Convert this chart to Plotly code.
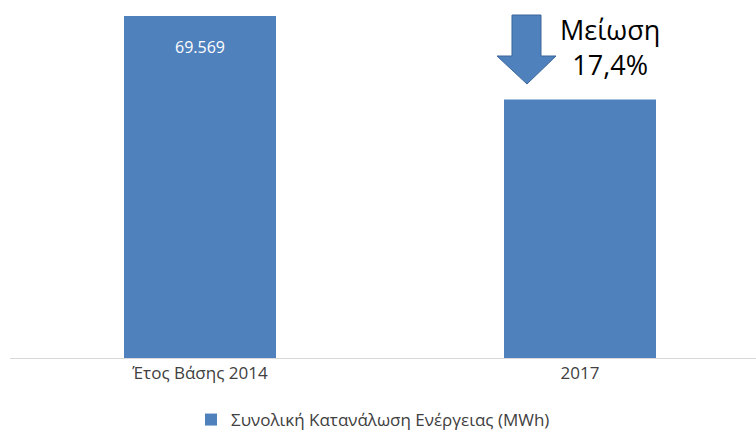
import plotly.graph_objects as go

categories = ["Έτος Βάσης 2014", "2017"]
values = [69569, 57466]
series_name = "Συνολική Κατανάλωση Ενέργειας (MWh)"
note_lines = ["Μείωση", "17,4%"]

W, H = 756, 430
L, R, T, B = 10, 0, 13, 72
PW, PH = W - L - R, H - T - B

def px(x):
    return (x - L) / PW

def py(y):
    return (H - B - y) / PH

BLUE = "#4F81BD"
FONT = "Open Sans, Liberation Sans, sans-serif"

def fmt(v):
    return f"{v:,}".replace(",", ".")

fig = go.Figure()
fig.add_trace(go.Bar(
    x=categories, y=values, name=series_name,
    marker=dict(color=BLUE, line=dict(width=0)),
    width=0.4, showlegend=True,
))

for c, v in zip(categories, values):
    fig.add_annotation(x=c, y=v, xref="x", yref="y", text=fmt(v),
                       showarrow=False, yshift=-31,
                       font=dict(color="white", size=16, family=FONT))

# down arrow
pts = [(512, 15), (541, 15), (541, 56), (556, 56), (527, 84), (497, 56), (512, 56)]
path = "M " + " L ".join(f"{px(x):.5f},{py(y):.5f}" for x, y in pts) + " Z"
fig.add_shape(type="path", path=path, xref="paper", yref="paper",
              fillcolor=BLUE, line=dict(color="#3A679B", width=1))

fig.add_annotation(x=px(610), y=py(47), xref="paper", yref="paper",
                   xanchor="center", yanchor="middle",
                   text="<br>".join(note_lines), showarrow=False,
                   font=dict(size=27, color="black", family=FONT))

fig.update_layout(
    width=W, height=H,
    margin=dict(l=L, r=R, t=T, b=B, autoexpand=False),
    plot_bgcolor="white", paper_bgcolor="white",
    font=dict(family=FONT, size=17, color="#404040"),
    xaxis=dict(type="category", range=[-0.5, -0.5 + PW / 380],
               showline=True, linecolor="#D9D9D9", linewidth=1,
               ticks="", showgrid=False, tickfont=dict(size=17, color="#404040")),
    yaxis=dict(range=[20000, 70000], visible=False, showgrid=False),
    legend=dict(orientation="h", x=px(191), xanchor="left", y=py(420), yanchor="middle",
                font=dict(size=17, color="#404040"), itemwidth=30,
                bgcolor="rgba(0,0,0,0)"),
    bargap=0.6,
)

fig.write_html("out.html", config={"displayModeBar": False},
               post_script="document.body.style.margin='0';document.body.style.overflow='hidden';")
